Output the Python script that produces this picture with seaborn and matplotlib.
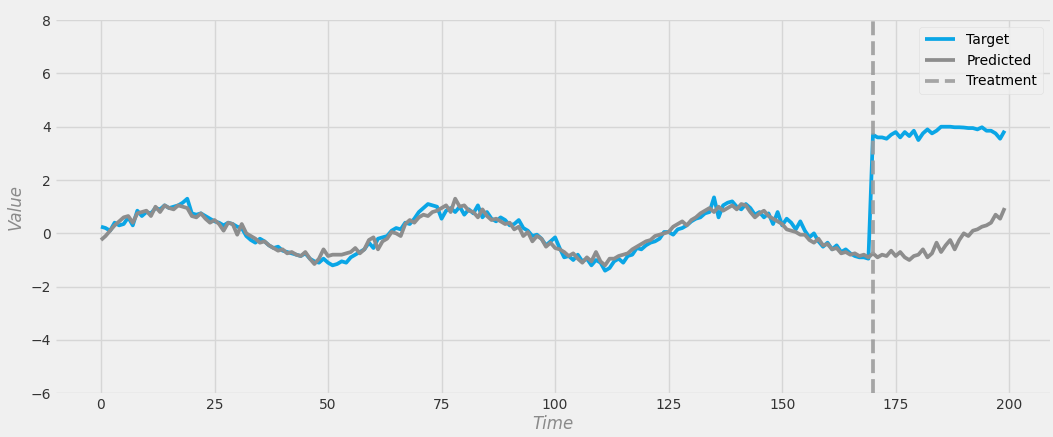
import numpy as np
import pandas as pd
import matplotlib
matplotlib.use('Agg')
import matplotlib.pyplot as plt
import seaborn as sns

# значення
time = list(range(200))
target = [
    0.25, 0.20, 0.10, 0.40, 0.30, 0.35, 0.60, 0.30, 0.85, 0.65,
    0.80, 0.75, 0.95, 0.90, 1.05, 0.95, 1.00, 1.05, 1.15, 1.30,
    0.75, 0.70, 0.75, 0.65, 0.55, 0.45, 0.40, 0.30, 0.40, 0.35,
    0.25, 0.20, -0.10, -0.25, -0.35, -0.20, -0.30, -0.45, -0.55, -0.50,
    -0.65, -0.70, -0.75, -0.80, -0.85, -0.75, -0.95, -1.05, -1.10, -0.95,
    -1.10, -1.20, -1.15, -1.05, -1.10, -0.90, -0.80, -0.70, -0.60, -0.35,
    -0.55, -0.20, -0.15, -0.10, 0.10, 0.20, 0.15, 0.40, 0.35, 0.55,
    0.80, 0.95, 1.10, 1.05, 1.00, 0.55, 0.85, 0.95, 0.80, 1.00,
    0.70, 0.90, 0.75, 1.05, 0.60, 0.80, 0.55, 0.45, 0.60, 0.50,
    0.30, 0.35, 0.50, 0.20, 0.10, -0.10, -0.05, -0.20, -0.45, -0.30,
    -0.15, -0.55, -0.90, -0.85, -1.00, -0.80, -1.05, -0.95, -1.20, -1.00,
    -1.10, -1.40, -1.30, -1.05, -0.95, -1.10, -0.85, -0.80, -0.55, -0.60,
    -0.45, -0.35, -0.30, -0.20, 0.05, 0.05, -0.05, 0.15, 0.20, 0.30,
    0.45, 0.55, 0.60, 0.75, 0.80, 1.35, 0.60, 1.05, 1.15, 1.20,
    1.00, 0.90, 1.10, 0.95, 0.70, 0.80, 0.60, 0.75, 0.35, 0.80,
    0.30, 0.55, 0.40, 0.15, 0.45, 0.10, -0.15, 0.00, -0.30, -0.50,
    -0.35, -0.60, -0.45, -0.70, -0.60, -0.75, -0.85, -0.90, -0.90, -0.95,
    3.70, 3.60, 3.60, 3.55, 3.70, 3.80, 3.60, 3.80, 3.65, 3.85,
    3.50, 3.75, 3.90, 3.75, 3.85, 4.00, 4.00, 4.00, 3.98, 3.98,
    3.97, 3.95, 3.95, 3.90, 3.98, 3.85, 3.85, 3.75, 3.55, 3.85,
]
predicted = [
    -0.25, -0.10, 0.10, 0.30, 0.45, 0.60, 0.65, 0.40, 0.75, 0.80,
    0.85, 0.65, 1.00, 0.80, 1.05, 0.95, 0.90, 1.05, 1.00, 0.95,
    0.65, 0.60, 0.75, 0.55, 0.40, 0.50, 0.35, 0.10, 0.40, 0.35,
    -0.05, 0.35, 0.00, -0.10, -0.20, -0.35, -0.30, -0.45, -0.55, -0.65,
    -0.60, -0.75, -0.70, -0.80, -0.85, -0.70, -0.95, -1.15, -0.95, -0.60,
    -0.85, -0.80, -0.80, -0.80, -0.75, -0.70, -0.55, -0.75, -0.60, -0.25,
    -0.15, -0.60, -0.30, -0.20, 0.05, 0.00, -0.10, 0.35, 0.50, 0.40,
    0.60, 0.70, 0.65, 0.80, 0.85, 0.95, 1.05, 0.80, 1.30, 1.00,
    1.05, 0.85, 0.80, 0.60, 0.90, 0.65, 0.50, 0.55, 0.45, 0.35,
    0.40, 0.15, 0.25, -0.10, 0.05, -0.30, -0.10, -0.20, -0.50, -0.35,
    -0.55, -0.60, -0.70, -0.85, -0.75, -0.95, -1.10, -0.90, -1.05, -0.70,
    -1.05, -1.20, -0.95, -0.95, -0.85, -0.80, -0.75, -0.60, -0.50, -0.40,
    -0.30, -0.25, -0.10, -0.05, 0.00, 0.05, 0.25, 0.35, 0.45, 0.30,
    0.50, 0.60, 0.75, 0.85, 0.95, 0.80, 1.00, 0.85, 0.95, 1.05,
    0.90, 1.10, 1.05, 0.80, 0.60, 0.75, 0.85, 0.65, 0.55, 0.45,
    0.35, 0.15, 0.10, 0.05, -0.05, -0.05, -0.25, -0.35, -0.20, -0.45,
    -0.40, -0.60, -0.55, -0.75, -0.70, -0.80, -0.75, -0.85, -0.80, -0.90,
    -0.75, -0.90, -0.80, -0.85, -0.65, -0.85, -0.70, -0.90, -1.00, -0.85,
    -0.80, -0.60, -0.90, -0.75, -0.35, -0.70, -0.45, -0.25, -0.60, -0.25,
    0.00, -0.10, 0.10, 0.15, 0.25, 0.30, 0.40, 0.70, 0.55, 0.95,
]
treatment_time = 170

df = pd.DataFrame({'Time': time, 'Target': target, 'Predicted': predicted})

plt.style.use('fivethirtyeight')
plt.rcParams['font.family'] = ['DejaVu Sans']

fig = plt.figure(figsize=(10.53, 4.37), dpi=100, facecolor='#f0f0f0')
ax = fig.add_axes([0.053, 0.1, 0.944, 0.854])
ax.set_facecolor('#f0f0f0')

sns.lineplot(x='Time', y='Target', data=df, ax=ax, color='#0aa6e6', linewidth=2.7, label='Target')
sns.lineplot(x='Time', y='Predicted', data=df, ax=ax, color='#8d8d8d', linewidth=2.7, label='Predicted')
ax.axvline(treatment_time, color='#9d9d9d', linestyle='--', linewidth=2.7, alpha=0.9, label='Treatment')

ax.set_ylim(-6, 8)
ax.set_xticks([0, 25, 50, 75, 100, 125, 150, 175, 200])
ax.set_yticks([-6, -4, -2, 0, 2, 4, 6, 8])
ax.tick_params(labelsize=10, colors='#333333', length=0)
ax.grid(True, color='#d6d6d6', linewidth=1)
ax.set_xlabel('Time', fontsize=12, fontstyle='italic', color='#8a8a8a', labelpad=2)
ax.set_ylabel('Value', fontsize=12, fontstyle='italic', color='#8a8a8a', labelpad=4)
for s in ax.spines.values():
    s.set_visible(False)

leg = ax.legend(loc='upper right', fontsize=10, frameon=True, handlelength=2.2)
leg.get_frame().set_facecolor('#f0f0f0')
leg.get_frame().set_edgecolor('#dddddd')

plt.savefig('out.png', dpi=100, facecolor='#f0f0f0')
